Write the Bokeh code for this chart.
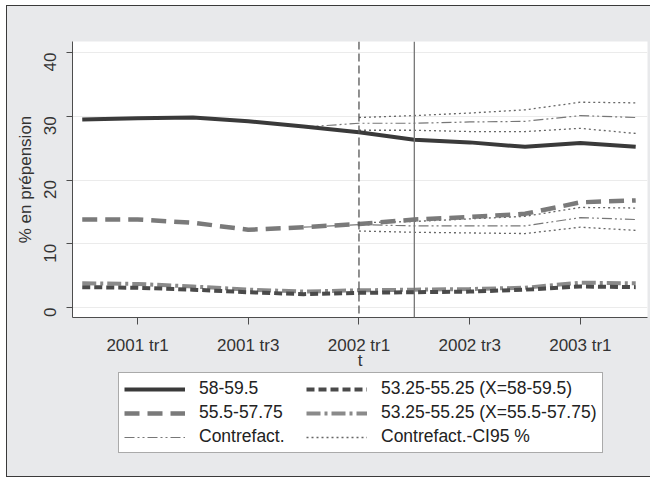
import math
from bokeh.plotting import figure
from bokeh.layouts import column, row
from bokeh.models import Range1d, FixedTicker, Legend, LegendItem, Span, Spacer
from bokeh.embed import file_html
from bokeh.resources import INLINE

# ---- data -------------------------------------------------------------
quarters = ["2000 tr4", "2001 tr1", "2001 tr2", "2001 tr3", "2001 tr4",
            "2002 tr1", "2002 tr2", "2002 tr3", "2002 tr4", "2003 tr1", "2003 tr2"]
tick_labels = ["2001 tr1", "2001 tr3", "2002 tr1", "2002 tr3", "2003 tr1"]
y_ticks = [0, 10, 20, 30, 40]

s_58 = [29.5, 29.7, 29.8, 29.2, 28.4, 27.5, 26.3, 25.9, 25.2, 25.8, 25.2]
s_555 = [13.8, 13.8, 13.3, 12.2, 12.6, 13.1, 13.8, 14.2, 14.7, 16.5, 16.8]
s_53_x58 = [3.2, 3.1, 2.8, 2.4, 2.1, 2.3, 2.4, 2.5, 2.8, 3.3, 3.2]
s_53_x555 = [3.8, 3.7, 3.3, 2.8, 2.5, 2.7, 2.8, 2.9, 3.1, 3.9, 3.8]

cf_quarters = ["2001 tr4", "2002 tr1", "2002 tr2", "2002 tr3", "2002 tr4", "2003 tr1", "2003 tr2"]
cf_58 = [28.3, 28.9, 28.9, 29.1, 29.2, 30.1, 29.8]
cf_555 = [12.6, 13.0, 12.8, 12.8, 12.8, 14.1, 13.8]

ci_quarters = ["2002 tr1", "2002 tr2", "2002 tr3", "2002 tr4", "2003 tr1", "2003 tr2"]
ci_58_hi = [29.8, 30.1, 30.5, 31.0, 32.2, 32.1]
ci_58_lo = [27.8, 27.8, 27.6, 27.6, 28.1, 27.3]
ci_555_hi = [13.3, 13.5, 13.9, 14.3, 15.7, 15.6]
ci_555_lo = [12.0, 11.8, 11.7, 11.6, 12.6, 12.1]

event_dashed = "2002 tr1"
event_solid = "2002 tr2"

legend_labels = ["58-59.5", "53.25-55.25 (X=58-59.5)", "55.5-57.75",
                 "53.25-55.25 (X=55.5-57.75)", "Contrefact.", "Contrefact.-CI95 %"]

FONT = "Liberation Sans"
BG = "#e8e9eb"

# ---- styles -----------------------------------------------------------
st_58 = dict(line_color="#3a3a3a", line_width=4)
st_555 = dict(line_color="#7a7a7a", line_width=4.5, line_dash="15 8")
st_x58 = dict(line_color="#4a4a4a", line_width=4, line_dash="8 4")
st_x555 = dict(line_color="#8a8a8a", line_width=4, line_dash="14 4 3 4")
st_cf = dict(line_color="#777777", line_width=1.2, line_dash="10 3 2 3 2 3")
st_ci = dict(line_color="#666666", line_width=1.3, line_dash="2 3")


def xs(qs):
    return [quarters.index(q) for q in qs]


x_all = xs(quarters)

p = figure(width=644, height=366, output_backend="svg", toolbar_location=None,
           x_range=Range1d(-0.176, 10.213), y_range=Range1d(-1.5625, 41.72),
           min_border_left=65, min_border_top=35, min_border_right=4,
           min_border_bottom=53)
p.border_fill_color = BG
p.background_fill_color = "white"
p.outline_line_color = None

# grid
p.xgrid.grid_line_color = None
p.ygrid.ticker = FixedTicker(ticks=y_ticks)
p.ygrid.grid_line_color = "#ebebeb"
p.ygrid.grid_line_width = 1

# axes
p.xaxis.ticker = FixedTicker(ticks=xs(tick_labels))
p.xaxis.major_label_overrides = {quarters.index(q): q for q in tick_labels}
p.yaxis.ticker = FixedTicker(ticks=y_ticks)
for ax in (p.xaxis[0], p.yaxis[0]):
    ax.axis_line_color = "#4d4d4d"
    ax.major_tick_line_color = "#4d4d4d"
    ax.minor_tick_line_color = None
    ax.major_tick_in = 0
    ax.major_label_text_font = FONT
    ax.major_label_text_font_size = "17px"
    ax.major_label_text_color = "#333333"
    ax.axis_label_text_font = FONT
    ax.axis_label_text_font_size = "17px"
    ax.axis_label_text_font_style = "normal"
    ax.axis_label_text_color = "#333333"
p.xaxis.major_tick_out = 7
p.xaxis.major_label_standoff = 11
p.xaxis.axis_label = "t"
p.xaxis.axis_label_standoff = -7
p.yaxis.major_tick_out = 6
p.yaxis.major_label_standoff = 16
p.yaxis.major_label_orientation = math.pi / 2
p.yaxis.axis_label = "% en prépension"
p.yaxis.axis_label_standoff = 1

# event lines
p.add_layout(Span(location=quarters.index(event_dashed), dimension="height",
                  line_color="#555555", line_width=1.3, line_dash="8 4"))
p.add_layout(Span(location=quarters.index(event_solid), dimension="height",
                  line_color="#777777", line_width=1.3))

# counterfactual + CI
cf_x = xs(cf_quarters)
ci_x = xs(ci_quarters)
p.line(cf_x, cf_58, **st_cf)
p.line(cf_x, cf_555, **st_cf)
for v in (ci_58_hi, ci_58_lo, ci_555_hi, ci_555_lo):
    p.line(ci_x, v, **st_ci)

# main series
p.line(x_all, s_58, **st_58)
p.line(x_all, s_555, **st_555)
p.line(x_all, s_53_x555, **st_x555)
p.line(x_all, s_53_x58, **st_x58)

# ---- legend panel (below the plot) -------------------------------------
lg = figure(width=644, height=104, output_backend="svg", toolbar_location=None,
            x_range=Range1d(0, 1), y_range=Range1d(0, 1),
            x_axis_type=None, y_axis_type=None,
            min_border_left=0, min_border_right=0, min_border_top=0, min_border_bottom=0)
lg.border_fill_color = BG
lg.background_fill_color = BG
lg.outline_line_color = None
lg.grid.grid_line_color = None

# legend proxies: one off-screen (NaN) point each, only used for the key
styles_in_order = [st_58, st_x58, st_555, st_x555, st_cf, st_ci]
items = []
for lab, st in zip(legend_labels, styles_in_order):
    r = lg.line([float("nan"), float("nan")], [float("nan"), float("nan")], **st)
    items.append(LegendItem(label=lab, renderers=[r]))

legend = Legend(items=items, orientation="horizontal", ncols=2, location=(46, 23),
                label_text_font=FONT, label_text_font_size="17.5px",
                label_text_color="#222222",
                glyph_width=61, glyph_height=20, label_height=20, label_width=104,
                label_standoff=14, spacing=3, padding=5, margin=0,
                border_line_color="#555555", border_line_width=1,
                background_fill_color="white", background_fill_alpha=1.0)
lg.add_layout(legend, "center")

inner = column(p, lg, spacing=0,
               styles={"border": "1px solid #3a3a3a", "background-color": BG})
layout = column(Spacer(height=5), row(Spacer(width=6), inner, spacing=0), spacing=0)

open("out.html", "w").write(file_html(layout, INLINE))
